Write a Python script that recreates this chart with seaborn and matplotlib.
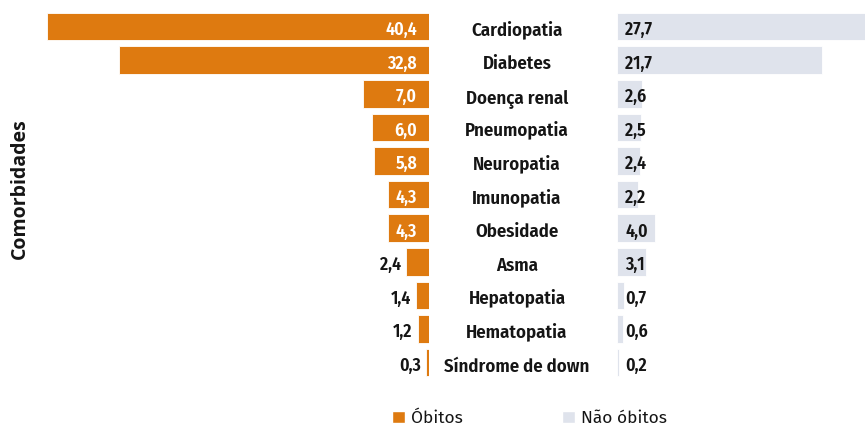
import matplotlib
matplotlib.use("Agg")
import matplotlib.pyplot as plt
from matplotlib.patches import Patch
import seaborn as sns
import pandas as pd

categorias = ["Cardiopatia", "Diabetes", "Doença renal", "Pneumopatia", "Neuropatia",
              "Imunopatia", "Obesidade", "Asma", "Hepatopatia", "Hematopatia",
              "Síndrome de down"]
obitos = [40.4, 32.8, 7.0, 6.0, 5.8, 4.3, 4.3, 2.4, 1.4, 1.2, 0.3]
nao_obitos = [27.7, 21.7, 2.6, 2.5, 2.4, 2.2, 4.0, 3.1, 0.7, 0.6, 0.2]

COR_OBITOS = "#DE7A10"
COR_NAO = "#DFE3EC"
TEXTO = "#151515"

sns.set_theme(style="white")
plt.rcParams["font.family"] = ["Fira Sans", "DejaVu Sans"]
COND = ["Fira Sans Condensed", "DejaVu Sans"]

df = pd.DataFrame({"categoria": categorias, "obitos": obitos, "nao_obitos": nao_obitos})

W, H = 865, 426
fig = plt.figure(figsize=(W / 100, H / 100), dpi=100)

px_per_unit = 9.455
top_px, bottom_px = 9.8, 379.4
y0 = 1 - bottom_px / H
h = (bottom_px - top_px) / H

# left panel: óbitos, growing leftwards from x=429 px
ax_l = fig.add_axes([0, y0, 429 / W, h])
# right panel: não óbitos, growing rightwards from x=617 px
ax_r = fig.add_axes([617 / W, y0, (W - 617) / W, h])

sns.barplot(data=df, y="categoria", x="obitos", orient="h", color=COR_OBITOS,
            width=0.82, saturation=1, edgecolor="white", linewidth=0.6, ax=ax_l)
sns.barplot(data=df, y="categoria", x="nao_obitos", orient="h", color=COR_NAO,
            width=0.82, saturation=1, edgecolor="white", linewidth=0.6, ax=ax_r)

ax_l.set_xlim(429 / px_per_unit, 0)
ax_r.set_xlim(0, (W - 617) / px_per_unit)

for ax in (ax_l, ax_r):
    ax.set_ylim(len(categorias) - 0.5, -0.5)
    ax.set_xlabel("")
    ax.set_ylabel("")
    ax.set_xticks([])
    ax.set_yticks([])
    for s in ax.spines.values():
        s.set_visible(False)
    ax.patch.set_alpha(0)

def fmt(v):
    return f"{v:.1f}".replace(".", ",")

val_kw = dict(family=COND, fontweight=600, fontsize=12.8, va="baseline")
cat_kw = dict(family=COND, fontweight=600, fontsize=13.5, va="baseline")
for i, v in enumerate(obitos):
    if v >= 4.3:
        ax_l.annotate(fmt(v), (0, i), xytext=(-12, -8.5), textcoords="offset pixels",
                      ha="right", color="white", **val_kw)
    else:
        ax_l.annotate(fmt(v), (v, i), xytext=(-5, -8.5), textcoords="offset pixels",
                      ha="right", color=TEXTO, **val_kw)
for i, v in enumerate(nao_obitos):
    ax_r.annotate(fmt(v), (0, i), xytext=(8, -8.5), textcoords="offset pixels",
                  ha="left", color=TEXTO, **val_kw)
    ax_r.annotate(categorias[i], (0, i), xytext=(517 - 617, -9.2), textcoords="offset pixels",
                  ha="center", color=TEXTO, annotation_clip=False, **cat_kw)

fig.text(20 / W, 1 - 189 / H, "Comorbidades", rotation=90, ha="center", va="center",
         fontsize=14, fontweight="bold", color=TEXTO, family=["Open Sans", "DejaVu Sans"])

handles = [Patch(facecolor=COR_OBITOS, label="Óbitos"),
           Patch(facecolor=COR_NAO, label="Não óbitos")]
fig.legend(handles=handles, loc="center", bbox_to_anchor=(529.5 / W, 1 - 418.5 / H),
           ncol=2, frameon=False, handlelength=0.75, handleheight=0.75,
           handletextpad=0.33, columnspacing=5.7, fontsize=12.5,
           labelcolor=TEXTO, borderpad=0, borderaxespad=0)

fig.savefig("out.png", dpi=100)
